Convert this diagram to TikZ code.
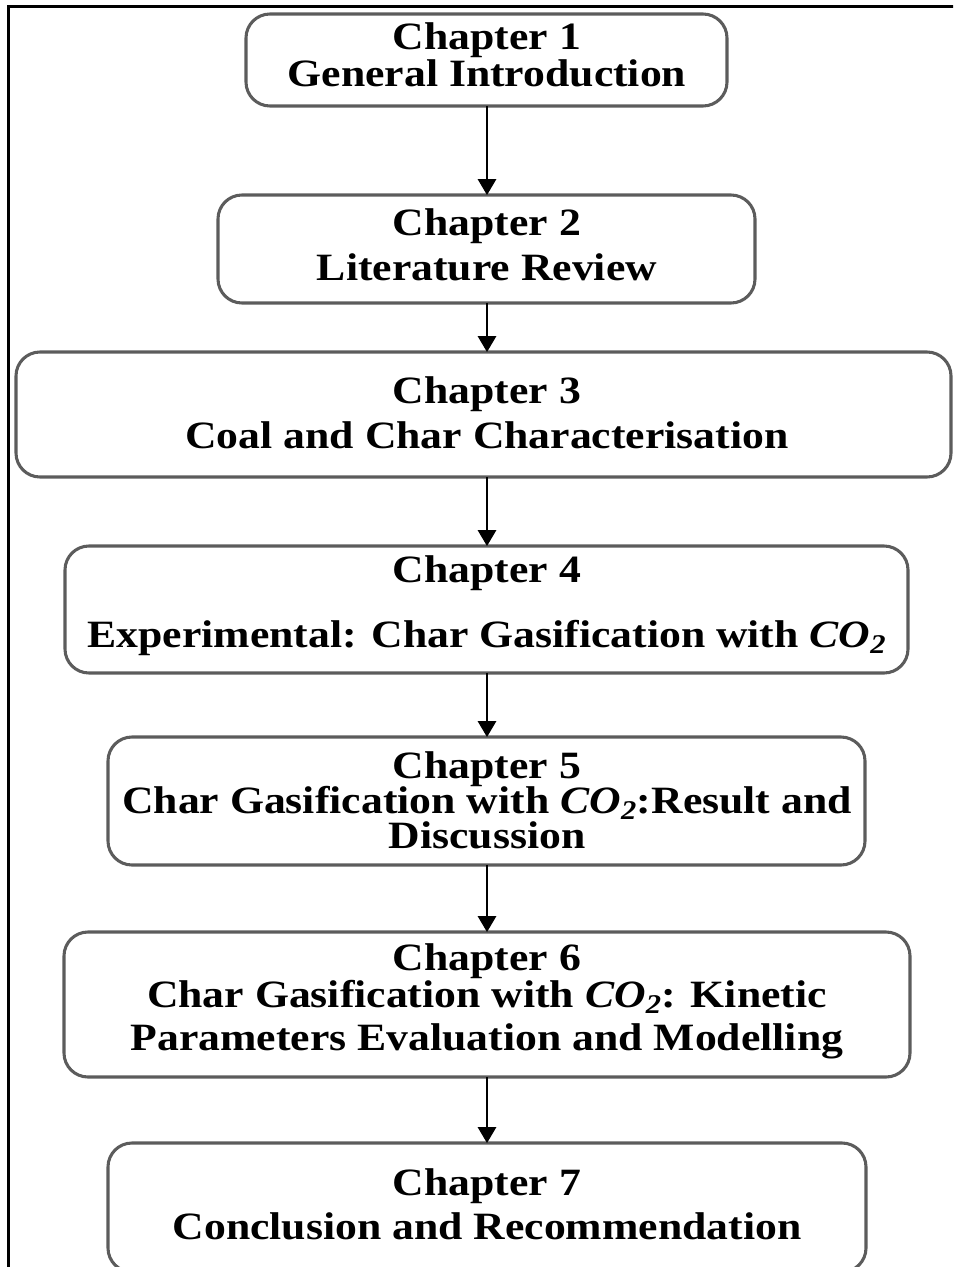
\documentclass[tikz,border=0pt]{standalone}
\usepackage{fontspec}
\setmainfont{Liberation Serif}[FakeStretch=1.13]
\usetikzlibrary{arrows.meta}
\begin{document}
\begin{tikzpicture}[x=0.75pt,y=-0.75pt,
  chbox/.style={draw=black!64, line width=2.3pt, rounded corners=18pt, rectangle, inner sep=0pt, outer sep=0pt},
  txt/.style={anchor=base, inner sep=0pt, font=\bfseries\fontsize{29}{29}\selectfont},
  arr/.style={-{Triangle[width=14pt,length=12pt]}, line width=0.8pt, draw=black}]
\useasboundingbox (0,0) rectangle (953,1267);
\clip (0,0) rectangle (953,1267);
\draw[line width=2.25pt] (8,6) rectangle (1000,1300);
% boxes
\node[chbox, minimum width=360.75pt, minimum height=69pt] (b1) at (486.5,60) {};
\node[chbox, minimum width=402.75pt, minimum height=81pt] (b2) at (486.5,249) {};
\node[chbox, minimum width=701.25pt, minimum height=93.75pt] (b3) at (483.5,414.5) {};
\node[chbox, minimum width=632.25pt, minimum height=95.25pt] (b4) at (486.5,609.5) {};
\node[chbox, minimum width=567.75pt, minimum height=96pt] (b5) at (486.5,801) {};
\node[chbox, minimum width=634.5pt, minimum height=108.75pt] (b6) at (487,1004.5) {};
\node[chbox, minimum width=568.5pt, minimum height=96.75pt] (b7) at (487,1207.5) {};
% texts
\node[txt] (t1a) at (487,49) {Chapter 1};
\node[txt] (t1b) at (487,86) {General Introduction};
\node[txt] (t2a) at (487,235) {Chapter 2};
\node[txt] (t2b) at (487,280) {Literature Review};
\node[txt] (t3a) at (487,403) {Chapter 3};
\node[txt] (t3b) at (487,448) {Coal and Char Characterisation};
\node[txt] (t4a) at (487,582) {Chapter 4};
\node[txt] (t4b) at (487,647) {Experimental: Char Gasification with \textit{CO\textsubscript{2}}};
\node[txt] (t5a) at (487,778) {Chapter 5};
\node[txt] (t5b) at (487,813) {Char Gasification with \textit{CO\textsubscript{2}}:Result and};
\node[txt] (t5c) at (487,848) {Discussion};
\node[txt] (t6a) at (487,970) {Chapter 6};
\node[txt] (t6b) at (487,1007) {Char Gasification with \textit{CO\textsubscript{2}}: Kinetic};
\node[txt] (t6c) at (487,1050) {Parameters Evaluation and Modelling};
\node[txt] (t7a) at (487,1195) {Chapter 7};
\node[txt] (t7b) at (487,1239) {Conclusion and Recommendation};
% arrows
\draw[arr] (b1.south -| t1a.base) -- (b2.north -| t1a.base);
\draw[arr] (b2.south -| t1a.base) -- (b3.north -| t1a.base);
\draw[arr] (b3.south -| t1a.base) -- (b4.north -| t1a.base);
\draw[arr] (b4.south -| t1a.base) -- (b5.north -| t1a.base);
\draw[arr] (b5.south -| t1a.base) -- (b6.north -| t1a.base);
\draw[arr] (b6.south -| t1a.base) -- (b7.north -| t1a.base);
\end{tikzpicture}
\end{document}
